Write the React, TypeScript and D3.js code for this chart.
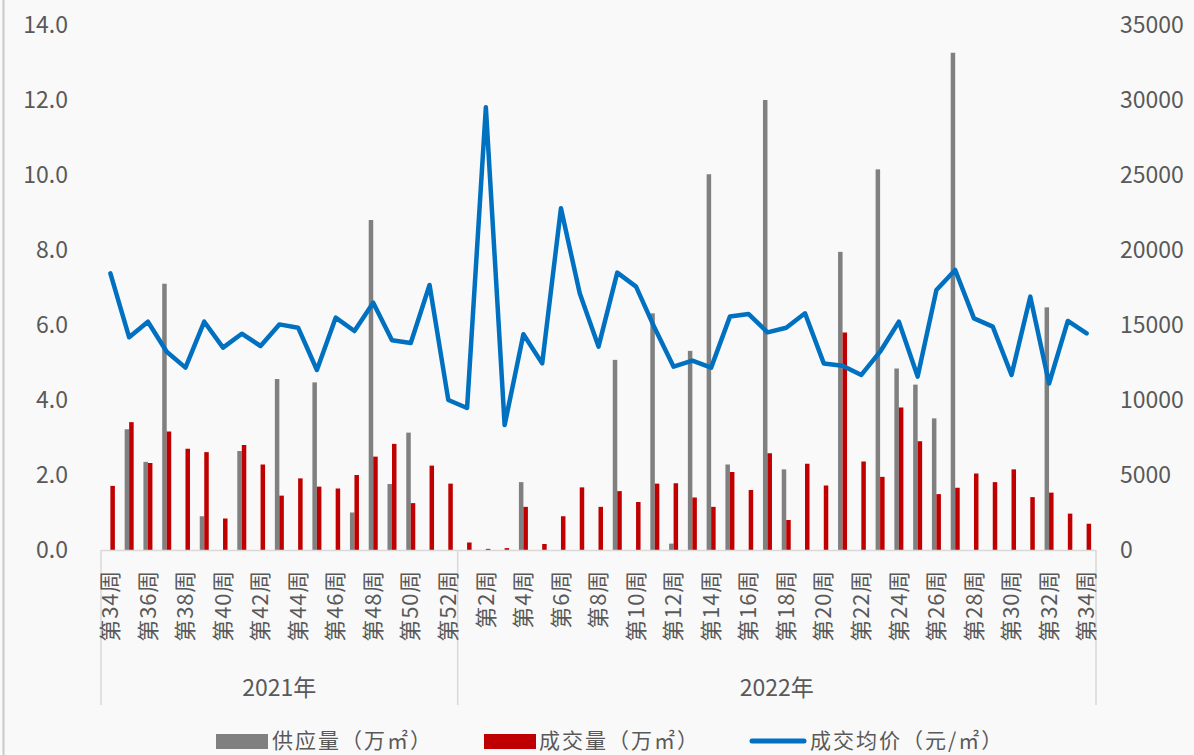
import { useEffect, useRef } from "react";
import * as d3 from "d3";

const weeks2021 = d3.range(34, 53).map((w) => `第${w}周`);
const weeks2022 = d3.range(1, 35).map((w) => `第${w}周`);
const years = ["2021年", "2022年"];

const supply = [
  0, 3.22, 2.35, 7.1, 0, 0.9, 0, 2.64, 0, 4.56, 0, 4.47, 0, 1.0, 8.8, 1.76, 3.13, 0, 0,
  0, 0, 0, 1.81, 0, 0, 0, 0, 5.07, 0, 6.31, 0.17, 5.31, 10.02, 2.28, 0, 12.0, 2.15, 0, 0,
  7.95, 0, 10.15, 4.84, 4.41, 3.51, 13.26, 0, 0, 0, 0, 6.47, 0, 0,
];
const deal = [
  1.71, 3.41, 2.32, 3.16, 2.7, 2.61, 0.84, 2.8, 2.28, 1.45, 1.91, 1.69, 1.64, 2.0, 2.49, 2.83, 1.25, 2.25, 1.77,
  0.2, 0.03, 0.05, 1.15, 0.16, 0.9, 1.67, 1.15, 1.57, 1.28, 1.77, 1.78, 1.4, 1.15, 2.08, 1.6, 2.58, 0.8, 2.3, 1.72,
  5.8, 2.36, 1.95, 3.8, 2.9, 1.49, 1.66, 2.04, 1.81, 2.15, 1.41, 1.53, 0.97, 0.7,
];
const price = [
  18440, 14180, 15220, 13220, 12160, 15220, 13490, 14420, 13600, 15040, 14820, 12000, 15490, 14600, 16490, 13980, 13800, 17670, 10000,
  9470, 29510, 8330, 14380, 12440, 22780, 17110, 13560, 18490, 17560, 14780, 12220, 12620, 12160, 15560, 15730, 14510, 14820, 15780,
  12440, 12290, 11670, 13220, 15220, 11560, 17330, 18670, 15440, 14890, 11670, 16890, 11100, 15270, 14440,
];
const leftTicks = [0, 2, 4, 6, 8, 10, 12, 14];
const rightTicks = [0, 5000, 10000, 15000, 20000, 25000, 30000, 35000];

const FONT = "'Noto Sans CJK SC', 'Noto Sans', sans-serif";
const TEXT = "#595959";

export default function App() {
  const svgRef = useRef<SVGSVGElement>(null);

  useEffect(() => {
    if (!svgRef.current) return;
    document.body.style.margin = "0";
    const svg = d3.select(svgRef.current);
    svg.selectAll("*").remove();

    const W = 1194;
    const H = 755;
    const left = 101;
    const right = 1096;
    const base = 550;
    const top = 25;

    const cats = [
      ...weeks2021.map((w) => `2021-${w}`),
      ...weeks2022.map((w) => `2022-${w}`),
    ];
    const labels = [...weeks2021, ...weeks2022];

    const x = d3.scaleBand<string>().domain(cats).range([left, right]);
    const bw = x.bandwidth();
    const sub = d3
      .scaleBand<string>()
      .domain(["supply", "deal"])
      .range([bw / 2 - 4.5, bw / 2 + 4.5]);
    const yL = d3.scaleLinear().domain([0, 14]).range([base, top]);
    const yR = d3.scaleLinear().domain([0, 35000]).range([base, top]);

    svg.append("rect").attr("width", W).attr("height", H).attr("fill", "#f9f9f9");
    svg.append("line")
      .attr("x1", 3.5).attr("x2", 3.5).attr("y1", 0).attr("y2", H)
      .attr("stroke", "#c9c9c9").attr("stroke-width", 2);

    // axis labels
    svg.append("g")
      .selectAll("text")
      .data(leftTicks)
      .join("text")
      .attr("x", 68)
      .attr("y", (d) => yL(d))
      .attr("dy", "0.35em")
      .attr("text-anchor", "end")
      .attr("font-family", FONT)
      .attr("font-size", 23)
      .attr("fill", TEXT)
      .text((d) => d.toFixed(1));

    svg.append("g")
      .selectAll("text")
      .data(rightTicks)
      .join("text")
      .attr("x", 1120)
      .attr("y", (d) => yR(d))
      .attr("dy", "0.35em")
      .attr("text-anchor", "start")
      .attr("font-family", FONT)
      .attr("font-size", 23)
      .attr("fill", TEXT)
      .text((d) => String(d));

    // bars
    const bars = svg.append("g");
    bars.selectAll("rect.supply")
      .data(supply)
      .join("rect")
      .attr("class", "supply")
      .attr("x", (_, i) => (x(cats[i]) ?? 0) + (sub("supply") ?? 0))
      .attr("width", sub.bandwidth())
      .attr("y", (d) => yL(d))
      .attr("height", (d) => base - yL(d))
      .attr("fill", "#808080");
    bars.selectAll("rect.deal")
      .data(deal)
      .join("rect")
      .attr("class", "deal")
      .attr("x", (_, i) => (x(cats[i]) ?? 0) + (sub("deal") ?? 0))
      .attr("width", sub.bandwidth())
      .attr("y", (d) => yL(d))
      .attr("height", (d) => base - yL(d))
      .attr("fill", "#c00000");

    // category axis
    const axisColor = "#d9d9d9";
    svg.append("line")
      .attr("x1", left).attr("x2", right).attr("y1", base + 0.5).attr("y2", base + 0.5)
      .attr("stroke", axisColor).attr("stroke-width", 1.5);
    const splitX = [left, x(cats[weeks2021.length]) ?? 0, right];
    svg.append("g")
      .selectAll("line")
      .data(splitX)
      .join("line")
      .attr("x1", (d) => d).attr("x2", (d) => d)
      .attr("y1", base).attr("y2", 705)
      .attr("stroke", axisColor).attr("stroke-width", 1.5);

    svg.append("g")
      .selectAll("text")
      .data(labels.map((l, i) => ({ l, i })).filter((d) => d.i % 2 === 0))
      .join("text")
      .attr("transform", (d) => `translate(${(x(cats[d.i]) ?? 0) + bw / 2},570) rotate(-90)`)
      .attr("dy", "0.35em")
      .attr("text-anchor", "end")
      .attr("font-family", FONT)
      .attr("font-size", 22)
      .attr("letter-spacing", 0.8)
      .attr("fill", TEXT)
      .text((d) => d.l);

    svg.append("g")
      .selectAll("text")
      .data(years)
      .join("text")
      .attr("x", (_, i) => (splitX[i] + splitX[i + 1]) / 2)
      .attr("y", 688)
      .attr("dy", "0.35em")
      .attr("text-anchor", "middle")
      .attr("font-family", FONT)
      .attr("font-size", 23)
      .attr("fill", TEXT)
      .text((d) => d);

    // price line
    const line = d3
      .line<number>()
      .x((_, i) => (x(cats[i]) ?? 0) + bw / 2)
      .y((d) => yR(d));
    svg.append("path")
      .datum(price)
      .attr("fill", "none")
      .attr("stroke", "#0070c0")
      .attr("stroke-width", 4.5)
      .attr("stroke-linejoin", "round")
      .attr("stroke-linecap", "round")
      .attr("d", line);

    // legend
    const ly = 741;
    const lg = svg.append("g").attr("font-family", FONT).attr("font-size", 21).attr("fill", TEXT);
    lg.append("rect").attr("x", 216).attr("y", ly - 7).attr("width", 52).attr("height", 15).attr("fill", "#808080");
    lg.append("text").attr("x", 272).attr("y", ly).attr("dy", "0.35em").attr("letter-spacing", 2).text("供应量（万㎡）");
    lg.append("rect").attr("x", 484).attr("y", ly - 7).attr("width", 52).attr("height", 15).attr("fill", "#c00000");
    lg.append("text").attr("x", 539).attr("y", ly).attr("dy", "0.35em").attr("letter-spacing", 2).text("成交量（万㎡）");
    lg.append("line")
      .attr("x1", 752).attr("x2", 804).attr("y1", ly).attr("y2", ly)
      .attr("stroke", "#0070c0").attr("stroke-width", 5).attr("stroke-linecap", "round");
    lg.append("text").attr("x", 810).attr("y", ly).attr("dy", "0.35em").attr("letter-spacing", 2).text("成交均价（元/㎡）");
  }, []);

  return <svg ref={svgRef} width={1194} height={755} style={{ display: "block" }} />;
}
